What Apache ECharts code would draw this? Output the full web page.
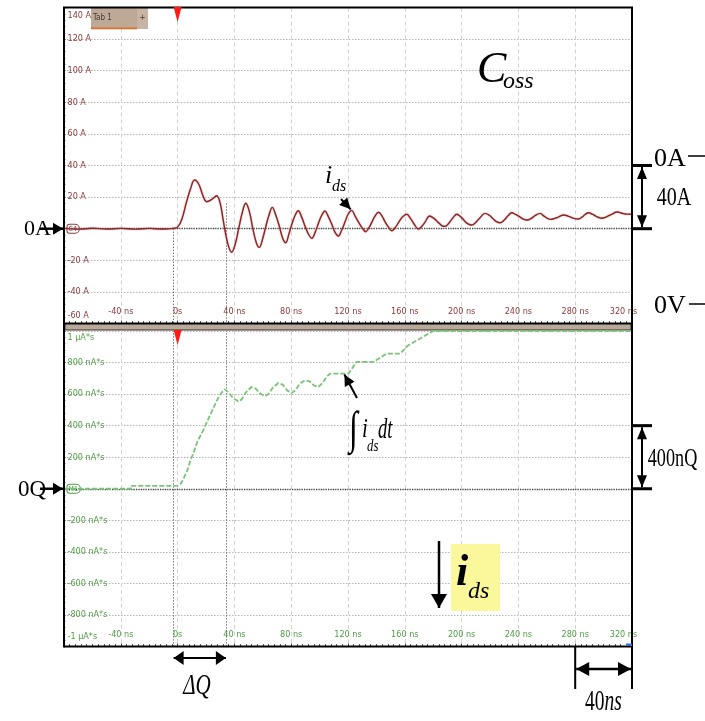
<!DOCTYPE html>
<html>
<head>
<meta charset="utf-8">
<script src="https://cdn.jsdelivr.net/npm/echarts/dist/echarts.min.js"></script>
<style>
  html, body { margin: 0; padding: 0; background: #fff; }
  #chart { width: 705px; height: 721px; }
</style>
</head>
<body>
<div id="chart"></div>
<script>
// Drain current i_ds (A) during the Coss charging event, time in ns
const idsTimeNs = [-80,-70,-60,-50,-40,-30,-20,-10,-3,0,3,6,9,12,15,18,20.4,24,27.5,30,32,34,36,38,40.5,43,45.5,48,50.5,53,55.5,57.5,60,62,64.5,66.7,69,71.5,74,76.1,78.5,80.5,83,85,87.5,90,92.5,94.5,97,99,101.5,103.8,106,108.5,111,113.2,115.5,118,120,122.6,125,127.5,130,132.5,135,137,139,141.5,144,146,148.5,150.8,153.5,156,158.5,161.4,164,166.5,169.6,172,174.5,177.4,180.5,183.5,186,188.4,191,194,196.6,199.5,202,204.5,207.2,210,213,216.6,219.5,222,224.5,227.2,230,232.5,235.4,238,241,243.5,246,249,252,255.4,258,262.5,265.5,268.5,271.8,275,279,282.4,285,287,289.4,292.5,295.5,298.9,302,305.5,309.5,313,316,320];
const idsAmp    = [0.2,-0.3,0.3,-0.2,0.2,-0.3,0.2,-0.2,0.2,1,6,16,25,30.8,28,20.5,17.1,18.5,20.9,16,6,-4,-11.5,-14.9,-10,0,10,16.1,11,0,-9,-11.8,-6,1,9,13.5,9,2,-6,-8.9,-3,3,9,11.4,7,1,-4,-6.1,-2,3,8.5,11.2,8,3,-2.5,-4.6,-1,4.5,9,11.6,8,4,0.5,-1.9,1,4.5,8,10.4,8,4.5,1,-1.3,1,4.5,7.5,9.1,6.5,3,-0.2,1.5,4.5,8,6.5,4,2,1.5,3.5,7,9.1,7.5,5,3,2.3,4,7,9.7,8.5,6.5,4.5,3.8,5.5,8,10.1,9,7.5,6,5.5,6.5,8.5,9.7,8,5.9,6.5,7.5,8.7,8,6.5,6.1,7.5,9,10.1,9,7.5,6.6,7.5,9,10.6,9.8,9.2,9.1];

// Integrated charge ∫i_ds dt (nA*s), time in ns
const qTimeNs  = [-80,-33,-32.9,-3,0,2,4,7,9,11,14,18,21,25,28,31,33.3,36,39,42.7,45,48,52,55,58,61.5,64,67,70.9,74,77,80.3,83,86,89.7,93,96,99.1,102,105,107.3,120.3,126,137.9,147.3,156.7,162.5,170.8,175,180,320];
const qCharge  = [0,0,18,18,20,30,60,120,180,222,300,370,430,508,565,610,630,610,575,554,565,610,645,635,605,586,600,640,670,660,625,607,625,665,688,680,655,645,670,710,730,730,804,804,857,857,910,952,975,1000,1000];

// Axis ticks and their texts
const timeTicksNs = [-80,-40,0,40,80,120,160,200,240,280,320];
const ampTickValues = [140,120,100,80,60,40,20,0,-20,-40,-60];
const chargeTickValues = [1000,800,600,400,200,0,-200,-400,-600,-800,-1000];
const chargeTickTexts  = ['1 µA*s','800 nA*s','600 nA*s','400 nA*s','200 nA*s','M1','-200 nA*s','-400 nA*s','-600 nA*s','-800 nA*s','-1 µA*s'];

// Cursor positions (ns)
const cursorA = -2.8;
const cursorB = 34;

const LABEL_FONT = "'Liberation Sans Narrow','DejaVu Sans Condensed',sans-serif";
const SERIF = "'Liberation Serif','DejaVu Serif',serif";
const RED = '#8c3a3a';
const TRACE_RED = '#8a2626';
const GREEN = '#4e9e44';
const TRACE_GREEN = '#79c479';
const LABEL_SIZE = 9;

const chart = echarts.init(document.getElementById('chart'), null, { renderer: 'canvas' });

function timeLabel(v) {
  if (v === 0) return '0s';
  if (v === timeTicksNs[timeTicksNs.length - 1]) return '{r|' + v + ' ns}';
  return v + ' ns';
}

function xAxisFor(gridIndex, color) {
  return {
    type: 'value', gridIndex,
    min: timeTicksNs[0], max: timeTicksNs[timeTicksNs.length - 1], interval: 40,
    position: 'bottom',
    axisLine: { show: false, onZero: false },
    axisTick: { show: true, inside: true, length: 3, lineStyle: { color: '#444' } },
    minorTick: { show: true, splitNumber: 10, length: 2.5, lineStyle: { color: '#555' } },
    splitLine: { show: true, lineStyle: { color: '#d2d2d2', type: [4, 3], width: 1 } },
    axisLabel: {
      inside: true, margin: 7, showMinLabel: false,
      color, fontSize: LABEL_SIZE, fontFamily: LABEL_FONT,
      formatter: timeLabel,
      rich: { r: { color, fontSize: LABEL_SIZE, fontFamily: LABEL_FONT, padding: [0, 17, 0, 0] } }
    }
  };
}

const gridSplit = { show: true, lineStyle: { color: '#b5b5b5', type: [1.5, 1.5], width: 1.2 } };
const cursorStyle = { color: '#555', type: [1.2, 1.8], width: 1 };

const option = {
  animation: false,
  backgroundColor: '#fff',
  grid: [
    { left: 64, top: 7.5, width: 568, height: 316, show: true, borderWidth: 0, backgroundColor: '#fff' },
    { left: 64, top: 331, width: 568, height: 315.5, show: true, borderWidth: 0, backgroundColor: '#fff' }
  ],
  xAxis: [xAxisFor(0, RED), xAxisFor(1, GREEN)],
  yAxis: [
    {
      type: 'value', gridIndex: 0, position: 'left',
      min: ampTickValues[ampTickValues.length - 1], max: ampTickValues[0], interval: 20,
      axisLine: { show: false, onZero: false },
      axisTick: { show: true, inside: true, length: 1.5, lineStyle: { color: '#555' } },
      minorTick: { show: true, splitNumber: 5, length: 1.5, lineStyle: { color: '#777' } },
      splitLine: gridSplit,
      axisLabel: {
        inside: true, margin: 3.5, color: RED, fontSize: LABEL_SIZE, fontFamily: LABEL_FONT,
        formatter: function (v) {
          if (v === 0) return '{m|C4}';
          if (v === ampTickValues[0]) return '{t|' + v + ' A}';
          if (v === ampTickValues[ampTickValues.length - 1]) return '{b|' + v + ' A}';
          return v + ' A';
        },
        rich: {
          t: { color: RED, fontSize: LABEL_SIZE, fontFamily: LABEL_FONT, padding: [17, 0, 0, 0] },
          b: { color: RED, fontSize: LABEL_SIZE, fontFamily: LABEL_FONT, padding: [0, 0, 16, 0] },
          m: { color: RED, fontSize: 7, fontFamily: LABEL_FONT, borderColor: RED, borderWidth: 1,
               borderRadius: [2, 4, 4, 2], padding: [1, 2, 0, 1], backgroundColor: '#fff' }
        }
      }
    },
    {
      type: 'value', gridIndex: 1, position: 'left',
      min: chargeTickValues[chargeTickValues.length - 1], max: chargeTickValues[0], interval: 200,
      axisLine: { show: false, onZero: false },
      axisTick: { show: true, inside: true, length: 1.5, lineStyle: { color: '#555' } },
      minorTick: { show: true, splitNumber: 5, length: 1.5, lineStyle: { color: '#777' } },
      splitLine: gridSplit,
      axisLabel: {
        inside: true, margin: 3.5, color: GREEN, fontSize: LABEL_SIZE, fontFamily: LABEL_FONT,
        formatter: function (v) {
          const text = chargeTickTexts[chargeTickValues.indexOf(v)];
          if (v === 0) return '{m|' + text + '}';
          if (v === chargeTickValues[0]) return '{t|' + text + '}';
          if (v === chargeTickValues[chargeTickValues.length - 1]) return '{b|' + text + '}';
          return text;
        },
        rich: {
          t: { color: GREEN, fontSize: LABEL_SIZE, fontFamily: LABEL_FONT, padding: [14, 0, 0, 0] },
          b: { color: GREEN, fontSize: LABEL_SIZE, fontFamily: LABEL_FONT, padding: [0, 0, 19, 0] },
          m: { color: GREEN, fontSize: 7, fontFamily: LABEL_FONT, borderColor: GREEN, borderWidth: 1,
               borderRadius: [2, 4, 4, 2], padding: [1, 2, 0, 1], backgroundColor: '#fff' }
        }
      }
    }
  ],
  series: [
    {
      name: 'ids', type: 'line', xAxisIndex: 0, yAxisIndex: 0,
      data: idsTimeNs.map((t, i) => [t, idsAmp[i]]),
      showSymbol: false, smooth: 0.4, z: 5,
      lineStyle: { color: TRACE_RED, width: 1.4, shadowColor: 'rgba(200,120,120,0.8)', shadowBlur: 1.5 },
      markLine: {
        silent: true, symbol: ['none', 'none'], label: { show: false },
        lineStyle: cursorStyle,
        data: [
          { yAxis: 0, lineStyle: { color: '#4a4a4a', type: [1.2, 1.2], width: 1.3 } },
          [{ coord: [cursorA, 0] }, { coord: [cursorA, ampTickValues[ampTickValues.length - 1]] }],
          [{ coord: [cursorB, 16] }, { coord: [cursorB, ampTickValues[ampTickValues.length - 1]] }]
        ]
      }
    },
    {
      name: 'charge', type: 'line', xAxisIndex: 1, yAxisIndex: 1,
      data: qTimeNs.map((t, i) => [t, qCharge[i]]),
      showSymbol: false, smooth: false, z: 5, clip: false,
      lineStyle: { color: TRACE_GREEN, width: 1.8, type: [5, 2] },
      markLine: {
        silent: true, symbol: ['none', 'none'], label: { show: false },
        lineStyle: cursorStyle,
        data: [
          { yAxis: 0, lineStyle: { color: '#4a4a4a', type: [1.2, 1.2], width: 1.3 } },
          { xAxis: cursorA },
          { xAxis: cursorB }
        ]
      }
    }
  ]
};

chart.setOption(option);

// ---- annotations ----
const p0 = (t, a) => chart.convertToPixel({ xAxisIndex: 0, yAxisIndex: 0 }, [t, a]);
const p1 = (t, q) => chart.convertToPixel({ xAxisIndex: 1, yAxisIndex: 1 }, [t, q]);

function head(tip, from, len, half) {
  const dx = tip[0] - from[0], dy = tip[1] - from[1];
  const d = Math.hypot(dx, dy), ux = dx / d, uy = dy / d;
  const bx = tip[0] - ux * len, by = tip[1] - uy * len;
  return {
    type: 'polygon', z: 100,
    shape: { points: [tip, [bx - uy * half, by + ux * half], [bx + uy * half, by - ux * half]] },
    style: { fill: '#000' }
  };
}
function seg(a, b, w, color, z) {
  return { type: 'line', z: z || 100, shape: { x1: a[0], y1: a[1], x2: b[0], y2: b[1] }, style: { stroke: color || '#000', lineWidth: w || 2 } };
}
function arrow(a, b, len, half, w) {
  return [seg(a, b, w), head(b, a, len, half)];
}
function dblArrow(a, b, len, half, w) {
  return [seg(a, b, w), head(b, a, len, half), head(a, b, len, half)];
}
function text(x, y, str, size, opt) {
  opt = opt || {};
  return {
    type: 'text', z: 110, x, y, scaleX: opt.scaleX || 1,
    style: {
      text: str, fill: opt.fill || '#000',
      fontSize: size, fontFamily: opt.family || SERIF,
      fontStyle: opt.italic ? 'italic' : 'normal', fontWeight: opt.bold ? 'bold' : 'normal',
      align: opt.align || 'left', verticalAlign: 'middle'
    }
  };
}

const g = [];
const xTrig = p0(0, 0)[0];
const xRight = p0(320, 0)[0];
const xLeft = p0(-80, 0)[0];
const yTop0 = p0(0, 140)[1];
const yBot0 = p0(0, -60)[1];
const yTop1 = p1(0, 1000)[1];
const yBot1 = p1(0, -1000)[1];
const yZero0 = p0(0, 0)[1];
const yZero1 = p1(0, 0)[1];

// separator bar between the two panes
g.push({ type: 'rect', z: 2, shape: { x: xLeft + 1, y: yBot0, width: xRight - xLeft - 2, height: yTop1 - yBot0 - 1 },
  style: { fill: '#b9aa9c', stroke: '#3a2d25', lineWidth: 1 } });

// pane frames
g.push({ type: 'rect', z: 92, shape: { x: xLeft, y: yTop0, width: xRight - xLeft, height: yBot0 - yTop0 },
  style: { fill: null, stroke: '#000', lineWidth: 2 } });
g.push(seg([xLeft, yBot0], [xLeft, yBot1 + 1], 2, '#000', 92));
g.push(seg([xRight, yBot0], [xRight, yBot1 + 1], 2, '#000', 92));
g.push(seg([xLeft, yBot1], [xRight, yBot1], 2, '#000', 92));

// tab on the top pane
g.push({ type: 'rect', z: 90, shape: { x: 91, y: 8, width: 57, height: 21 }, style: { fill: '#bea997' } });
g.push({ type: 'rect', z: 91, shape: { x: 137, y: 8, width: 11, height: 21 }, style: { fill: '#c7b4a4' } });
g.push({ type: 'rect', z: 91, shape: { x: 91, y: 27.5, width: 46, height: 1.8 }, style: { fill: '#e36b2a' } });
g.push(text(93, 18, 'Tab 1', 8, { family: LABEL_FONT, fill: '#4a3a33' }));
g.push(text(142.5, 18, '+', 8, { family: LABEL_FONT, fill: '#4a3a33', align: 'center' }));

// trigger markers
g.push({ type: 'polygon', z: 95, shape: { points: [[xTrig - 4, yTop0 - 0.5], [xTrig + 4, yTop0 - 0.5], [xTrig, yTop0 + 14.5]] }, style: { fill: '#ff1a1a' } });
g.push({ type: 'polygon', z: 95, shape: { points: [[xTrig - 4, yTop1 - 1], [xTrig + 4, yTop1 - 1], [xTrig, yTop1 + 14]] }, style: { fill: '#ff1a1a' } });

// small marker at the bottom right
g.push({ type: 'rect', z: 95, shape: { x: xRight - 6, y: yBot1 - 3, width: 6, height: 2.5 }, style: { fill: '#3d6ed6' } });

// left reference labels
g.push(text(24, yZero0 + 1, '0A', 22));
g.push(...arrow([40, yZero0], [63, yZero0], 10, 6, 2.5));
g.push(text(18, yZero1 + 1, '0Q', 23));
g.push(...arrow([40, yZero1], [63, yZero1], 10, 6, 2.5));

// right side scale brackets
const y40 = p0(0, 40)[1];
g.push(text(654, 159, '0A', 26));
g.push(seg([688, 156], [705, 156], 1.5));
g.push(seg([xRight, y40], [652, y40], 3));
g.push(seg([xRight, yZero0], [652, yZero0], 3));
g.push(...dblArrow([642, y40 + 1.5], [642, yZero0 - 1.5], 12, 5, 2));
g.push(text(674, 198, '40A', 25, { align: 'center', scaleX: 0.8 }));
g.push(text(654, 306, '0V', 26));
g.push(seg([689, 304], [705, 304], 1.5));

const y400 = p1(0, 400)[1];
g.push(seg([xRight, y400], [652, y400], 3));
g.push(seg([xRight, yZero1], [652, yZero1], 3));
g.push(...dblArrow([642, y400 + 1.5], [642, yZero1 - 1.5], 12, 5, 2));
g.push(text(672.5, 459, '400nQ', 26, { align: 'center', scaleX: 0.7 }));

// C_oss title
g.push(text(477, 70, 'C', 44, { italic: true }));
g.push(text(503, 82, 'oss', 24, { italic: true }));

// i_ds pointer on the current trace
const peak = p0(122.6, 11.6);
g.push(text(325, 176, 'i', 26, { italic: true }));
g.push(text(332, 187, 'ds', 16, { italic: true }));
g.push(...arrow([341, 199], [peak[0] - 1, peak[1] - 1], 11, 5.5, 2));

// ∫ i_ds dt pointer on the charge trace
const step = p1(120.3, 730);
g.push(text(349, 431, '∫', 46, { scaleX: 0.7 }));
g.push(text(362, 430, 'i', 28, { italic: true, scaleX: 0.75 }));
g.push(text(367, 447, 'ds', 16, { italic: true, scaleX: 0.8 }));
g.push(text(378, 430, 'dt', 30, { italic: true, scaleX: 0.62 }));
g.push(...arrow([357, 398], [step[0] - 4, step[1] + 1], 11, 5.5, 2));

// direction marker with highlighted i_ds
g.push({ type: 'rect', z: 100, shape: { x: 451, y: 544, width: 49, height: 67 }, style: { fill: '#fbf79b' } });
g.push(text(456, 574, 'i', 44, { italic: true, bold: true }));
g.push(text(468, 592, 'ds', 24, { italic: true }));
g.push(...arrow([439, 541], [439, 608], 14, 8, 2.5));

// ΔQ span between cursors
const xa = p1(cursorA, 0)[0], xb = p1(cursorB, 0)[0];
g.push(...dblArrow([xa, 658], [xb, 658], 10, 7, 2));
g.push(text(197, 686, 'ΔQ', 30, { italic: true, align: 'center', scaleX: 0.7 }));

// 40 ns scale marker
const x280 = p1(280, 0)[0];
g.push(seg([x280, yBot1], [x280, 689], 2));
g.push(seg([xRight, yBot1], [xRight, 689], 2));
g.push(...dblArrow([x280 + 1, 669], [xRight - 1, 669], 13, 7, 2.5));
g.push({
  type: 'text', z: 110, x: 603.5, y: 702, scaleX: 0.65,
  style: {
    text: '{a|40}{b|ns}', align: 'center', verticalAlign: 'middle',
    rich: {
      a: { fontSize: 30, fontFamily: SERIF, fill: '#000' },
      b: { fontSize: 30, fontFamily: SERIF, fontStyle: 'italic', fill: '#000' }
    }
  }
});

chart.setOption({ graphic: g });
</script>
</body>
</html>
